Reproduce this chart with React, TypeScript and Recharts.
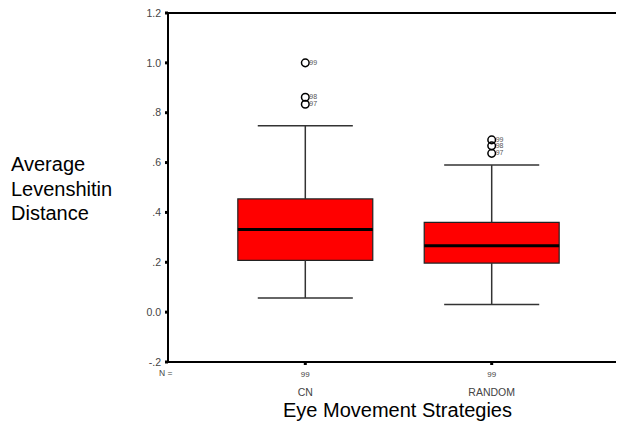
import React from 'react';
import {
  ComposedChart,
  XAxis,
  YAxis,
  Scatter,
  ReferenceArea,
  ReferenceLine,
} from 'recharts';

// ---- data ----
const categories = ['CN', 'RANDOM'];
const counts = [99, 99];
const whiskerLow = [0.057, 0.031];
const q1 = [0.208, 0.197];
const median = [0.332, 0.266];
const q3 = [0.454, 0.36];
const whiskerHigh = [0.748, 0.59];
const outlierValues = [
  [1.0, 0.862, 0.834],
  [0.691, 0.667, 0.637],
];
const outlierLabels = [
  ['99', '98', '97'],
  ['99', '98', '97'],
];
const yTicks = [-0.2, 0, 0.2, 0.4, 0.6, 0.8, 1.0, 1.2];
const xPositions = [1, 2];

const FONT = '"Liberation Sans", Arial, Helvetica, sans-serif';
const BOX_HALF = 0.362;
const CAP_HALF = 0.255;

const outlierData = outlierValues.flatMap((vals, i) =>
  vals.map((v, j) => ({ x: xPositions[i], y: v, label: outlierLabels[i][j] }))
);

const fmtY = (v: number) => {
  if (Math.abs(v) < 1e-9) return '0.0';
  const s = v.toFixed(1);
  if (s.startsWith('0.')) return s.slice(1);
  if (s.startsWith('-0.')) return '-' + s.slice(2);
  return s;
};

const XTick = (props: any) => {
  const { x, y, payload } = props;
  const idx = xPositions.indexOf(payload.value);
  if (idx < 0) return null;
  return (
    <g>
      <text x={x} y={y + 9.5} textAnchor="middle" fontSize={8} fill="#444" fontFamily={FONT}>
        {counts[idx]}
      </text>
      <text x={x} y={y + 28.5} textAnchor="middle" fontSize={10.5} fill="#444" fontFamily={FONT}>
        {categories[idx]}
      </text>
    </g>
  );
};

const OutlierShape = (props: any) => {
  const { cx, cy, payload } = props;
  return (
    <g>
      <circle cx={cx} cy={cy} r={3.8} fill="none" stroke="#000" strokeWidth={1.5} />
      <text x={cx + 4} y={cy + 2} fontSize={7} fill="#555" fontFamily={FONT}>
        {payload.label}
      </text>
    </g>
  );
};

export default function App() {
  return (
    <div style={{ position: 'relative', width: 624, height: 423, margin: '-8px 0 0 -8px', background: '#fff' }}>
      <div style={{ position: 'absolute', left: 0, top: 0 }}>
        <ComposedChart
          width={624}
          height={423}
          margin={{ top: 13, right: 0, bottom: 21, left: 108 }}
        >
          <XAxis
            type="number"
            dataKey="x"
            domain={[0.2634, 2.7098]}
            ticks={xPositions}
            allowDataOverflow
            height={40}
            tick={<XTick />}
            tickSize={3}
            tickLine={{ stroke: '#000', strokeWidth: 3 }}
            axisLine={{ stroke: '#000', strokeWidth: 2 }}
          />
          <YAxis
            type="number"
            dataKey="y"
            domain={[-0.2, 1.2]}
            ticks={yTicks}
            allowDataOverflow
            width={60}
            tickFormatter={fmtY}
            tickSize={3}
            tickMargin={4}
            tick={{ fontSize: 10.5, fill: '#444', fontFamily: FONT }}
            tickLine={{ stroke: '#000', strokeWidth: 3 }}
            axisLine={{ stroke: '#000', strokeWidth: 2 }}
          />
          <ReferenceLine y={1.2} stroke="#000" strokeWidth={2} ifOverflow="visible" />
          {xPositions.map((x, i) => (
            <ReferenceLine
              key={'wu' + i}
              segment={[{ x, y: q3[i] }, { x, y: whiskerHigh[i] }]}
              stroke="#333"
              strokeWidth={1.5}
            />
          ))}
          {xPositions.map((x, i) => (
            <ReferenceLine
              key={'wl' + i}
              segment={[{ x, y: whiskerLow[i] }, { x, y: q1[i] }]}
              stroke="#333"
              strokeWidth={1.5}
            />
          ))}
          {xPositions.map((x, i) => (
            <ReferenceLine
              key={'cu' + i}
              segment={[{ x: x - CAP_HALF, y: whiskerHigh[i] }, { x: x + CAP_HALF, y: whiskerHigh[i] }]}
              stroke="#333"
              strokeWidth={1.5}
            />
          ))}
          {xPositions.map((x, i) => (
            <ReferenceLine
              key={'cl' + i}
              segment={[{ x: x - CAP_HALF, y: whiskerLow[i] }, { x: x + CAP_HALF, y: whiskerLow[i] }]}
              stroke="#333"
              strokeWidth={1.5}
            />
          ))}
          {xPositions.map((x, i) => (
            <ReferenceArea
              key={'box' + i}
              x1={x - BOX_HALF}
              x2={x + BOX_HALF}
              y1={q1[i]}
              y2={q3[i]}
              fill="#ff0000"
              fillOpacity={1}
              stroke="#222"
              strokeWidth={1.2}
            />
          ))}
          {xPositions.map((x, i) => (
            <ReferenceLine
              key={'med' + i}
              segment={[{ x: x - BOX_HALF, y: median[i] }, { x: x + BOX_HALF, y: median[i] }]}
              stroke="#000"
              strokeWidth={3}
            />
          ))}
          <Scatter data={outlierData} dataKey="y" shape={<OutlierShape />} isAnimationActive={false} />
        </ComposedChart>
      </div>
      <div
        style={{
          position: 'absolute',
          left: 159,
          top: 368,
          fontSize: 8.5,
          color: '#444',
          fontFamily: FONT,
          lineHeight: '10px',
          whiteSpace: 'nowrap',
        }}
      >
        N =
      </div>
      <div
        style={{
          position: 'absolute',
          left: 11,
          top: 152,
          fontSize: 20,
          lineHeight: '24.5px',
          fontFamily: FONT,
          color: '#000',
        }}
      >
        Average
        <br />
        Levenshitin
        <br />
        Distance
      </div>
      <div
        style={{
          position: 'absolute',
          left: 0,
          width: 795,
          textAlign: 'center',
          top: 400,
          fontSize: 20,
          lineHeight: '20px',
          fontFamily: FONT,
          color: '#000',
          whiteSpace: 'nowrap',
        }}
      >
        Eye Movement Strategies
      </div>
    </div>
  );
}
